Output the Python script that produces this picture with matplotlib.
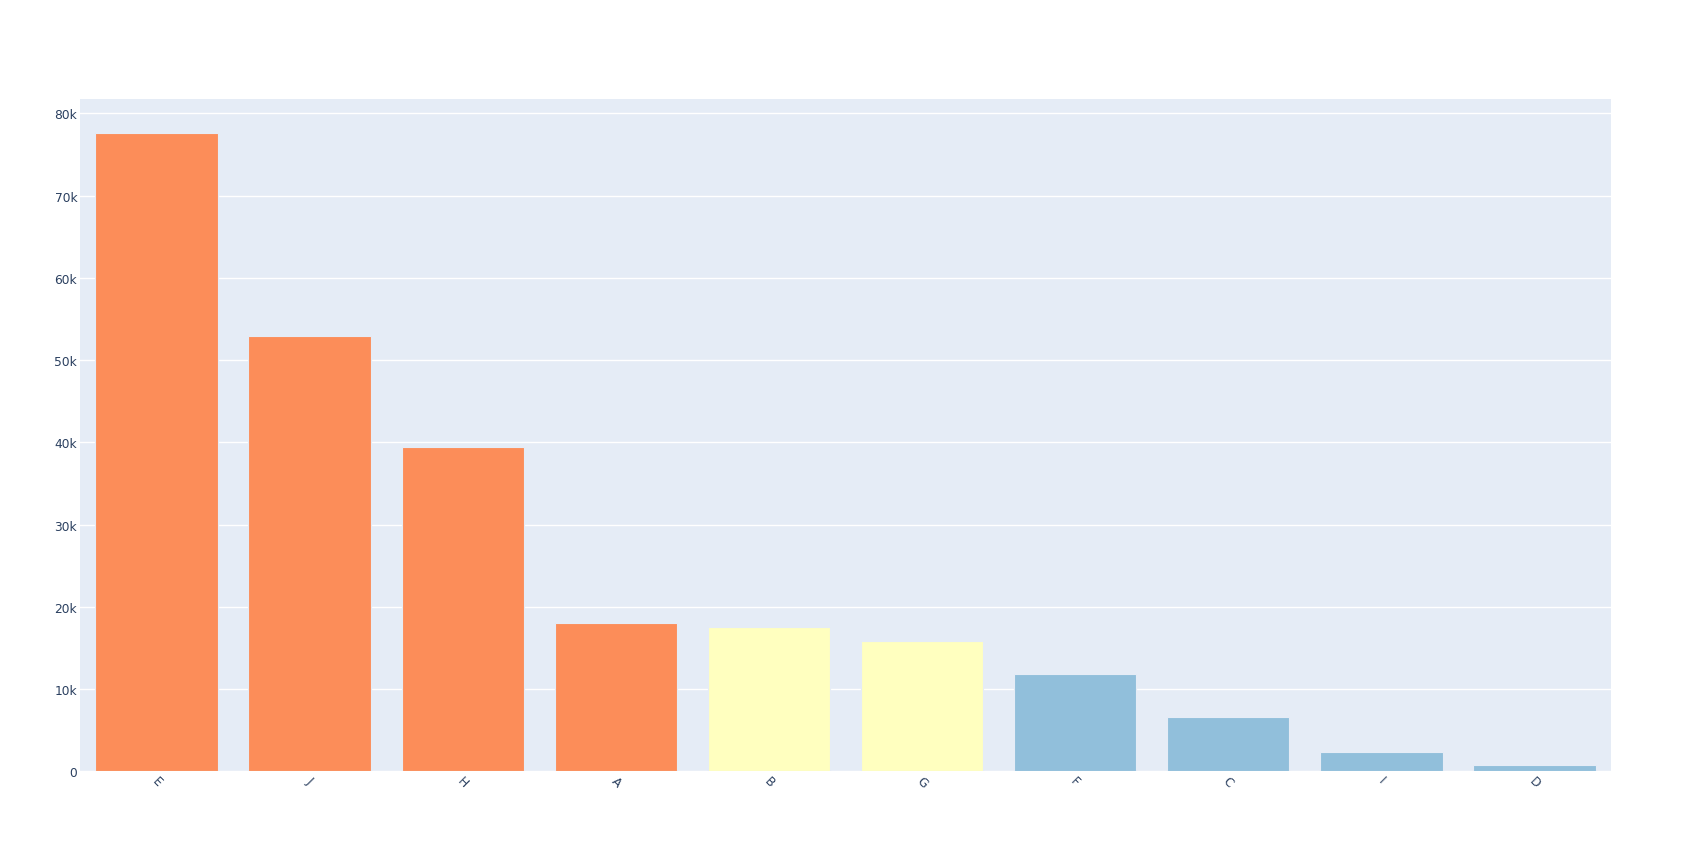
import matplotlib
matplotlib.use("Agg")
from matplotlib import pyplot as plt
from matplotlib.ticker import FuncFormatter

# bar values, sorted descending
categories = ["E", "J", "H", "A", "B", "G", "F", "C", "I", "D"]
values = [77600, 52900, 39400, 18000, 17600, 15800, 11800, 6600, 2400, 730]
groups = ["high", "high", "high", "high", "mid", "mid", "low", "low", "low", "low"]

group_colors = {"high": "#fc8d59", "mid": "#ffffbf", "low": "#91bfdb"}
colors = [group_colors[g] for g in groups]

fig = plt.figure(figsize=(16.9, 8.53), dpi=100)
ax = fig.add_axes([80 / 1690, 1 - 772.3 / 853, 1531 / 1690, 672.3 / 853])
ax.set_facecolor("#e5ecf6")

ax.bar(categories, values, width=0.8, color=colors, edgecolor="#e5ecf6", linewidth=0.8, zorder=2)

ax.set_xlim(-0.5, len(categories) - 0.5)
ax.set_ylim(0, 81740)
ax.set_yticks(range(0, 80001, 10000))
ax.yaxis.set_major_formatter(FuncFormatter(lambda v, p: "0" if v == 0 else "%dk" % (v / 1000)))
ax.grid(axis="y", color="white", linewidth=1, zorder=1)
ax.grid(axis="x", visible=False)
ax.set_axisbelow(True)

for s in ax.spines.values():
    s.set_visible(False)

ax.tick_params(axis="both", length=0, labelsize=8.8, labelcolor="#2a3f5f")
ax.tick_params(axis="y", pad=2)
ax.tick_params(axis="x", pad=2)
plt.setp(ax.get_xticklabels(), rotation=-45, ha="center", va="top", rotation_mode="default")

fig.savefig("out.png", dpi=100, facecolor="white")
